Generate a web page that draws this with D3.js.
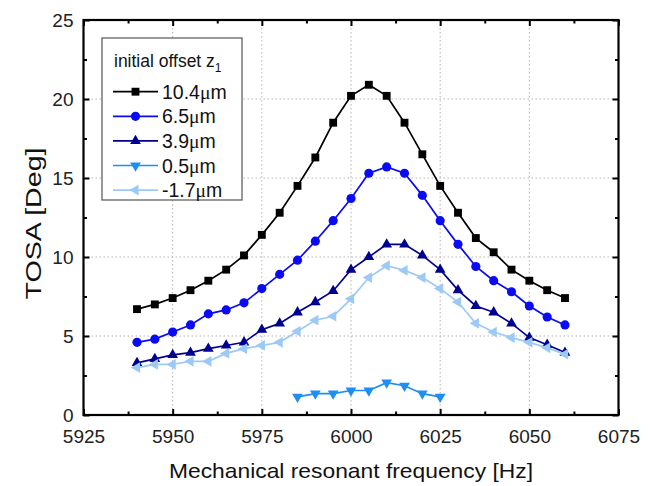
<!DOCTYPE html>
<html>
<head>
<meta charset="utf-8">
<script src="https://cdn.jsdelivr.net/npm/d3@7"></script>
<style>
  html, body { margin: 0; padding: 0; background: #fff; }
  svg { display: block; }
  text { font-family: "Liberation Sans", Arial, sans-serif; }
</style>
</head>
<body>
<svg id="chart" width="657" height="486"></svg>
<script>
// ---------- data ----------
const freqFull = [5940, 5945, 5950, 5955, 5960, 5965, 5970, 5975, 5980, 5985, 5990, 5995, 6000,
                  6005, 6010, 6015, 6020, 6025, 6030, 6035, 6040, 6045, 6050, 6055, 6060];
const freqShort = [5985, 5990, 5995, 6000, 6005, 6010, 6015, 6020, 6025];

const z10_4 = [6.7, 7.0, 7.4, 7.9, 8.5, 9.2, 10.1, 11.4, 12.8, 14.5, 16.3, 18.5, 20.2,
               20.9, 20.2, 18.5, 16.5, 14.5, 12.8, 11.2, 10.3, 9.2, 8.5, 7.9, 7.4];
const z6_5  = [4.6, 4.8, 5.25, 5.7, 6.4, 6.65, 7.1, 8.0, 8.9, 9.8, 11.0, 12.3, 13.7,
               15.3, 15.7, 15.3, 13.9, 12.3, 10.8, 9.4, 8.5, 7.8, 6.9, 6.2, 5.7];
const z3_9  = [3.3, 3.55, 3.8, 3.95, 4.2, 4.4, 4.6, 5.4, 5.8, 6.5, 7.15, 7.85, 9.2,
               10.0, 10.8, 10.8, 10.1, 9.2, 7.9, 6.9, 6.5, 5.8, 4.9, 4.45, 3.95];
const z0_5  = [1.15, 1.35, 1.35, 1.55, 1.55, 2.05, 1.85, 1.35, 1.15];
const zm1_7 = [3.0, 3.2, 3.2, 3.4, 3.4, 3.9, 4.2, 4.4, 4.6, 5.3, 6.0, 6.25, 7.35,
               8.7, 9.45, 9.15, 8.7, 8.0, 7.15, 5.8, 5.25, 4.9, 4.6, 4.25, 3.85];

const seriesLabels = ["10.4", "6.5", "3.9", "0.5", "-1.7"];
const legendTitle = "initial offset z";
const legendTitleSub = "1";
const xTicks = [5925, 5950, 5975, 6000, 6025, 6050, 6075];
const yTicks = [0, 5, 10, 15, 20, 25];
const xTitle = "Mechanical resonant frequency [Hz]";
const yTitle = "TOSA [Deg]";

// ---------- layout ----------
const svg = d3.select("#chart");
const L = 83.5, R = 618.5, T = 20, B = 415;

const x = d3.scaleLinear().domain([5925, 6075]).range([L, R]);
const y = d3.scaleLinear().domain([0, 25]).range([B, T]);

const series = [
  { name: seriesLabels[0], xs: freqFull,  ys: z10_4, color: "#000000", sym: d3.symbolSquare,   size: 62, rot: 0 },
  { name: seriesLabels[1], xs: freqFull,  ys: z6_5,  color: "#0a0af5", sym: d3.symbolCircle,   size: 66, rot: 0 },
  { name: seriesLabels[2], xs: freqFull,  ys: z3_9,  color: "#000090", sym: d3.symbolTriangle, size: 50, rot: 0 },
  { name: seriesLabels[3], xs: freqShort, ys: z0_5,  color: "#1e8ef5", sym: d3.symbolTriangle, size: 50, rot: 180 },
  { name: seriesLabels[4], xs: freqFull,  ys: zm1_7, color: "#9cc9f5", sym: d3.symbolTriangle, size: 50, rot: -90 }
];

// ---------- grid ----------
const grid = svg.append("g");
xTicks.filter(v => v > 5925 && v < 6075).forEach(v => {
  grid.append("line").attr("x1", x(v)).attr("x2", x(v)).attr("y1", T).attr("y2", B)
    .attr("stroke", "#b4b4b4").attr("stroke-width", 1).attr("stroke-dasharray", "1.5,2.5");
});
yTicks.filter(v => v > 0 && v < 25).forEach(v => {
  grid.append("line").attr("x1", L).attr("x2", R).attr("y1", y(v)).attr("y2", y(v))
    .attr("stroke", "#b4b4b4").attr("stroke-width", 1).attr("stroke-dasharray", "1.5,2.5");
});

// ---------- axes (ticks inward on all four sides) ----------
const xMinor = d3.range(5937.5, 6075, 25);
const yMinor = d3.range(2.5, 25, 5);

function ticksG(axisFn, scale, major, minor, transform, fmt) {
  const g = svg.append("g").attr("transform", transform);
  g.call(axisFn(scale).tickValues(major).tickSize(-6).tickSizeOuter(0).tickPadding(fmt ? 10 : 0)
        .tickFormat(fmt ? d3.format("d") : ""));
  g.select(".domain").remove();
  g.selectAll(".tick line").attr("stroke", "#000").attr("stroke-width", 2);
  g.selectAll(".tick text").attr("font-size", 19).attr("fill", "#222")
    .style("font-family", "'Liberation Sans', Arial, sans-serif");
  const gm = svg.append("g").attr("transform", transform);
  gm.call(axisFn(scale).tickValues(minor).tickSize(-3.5).tickSizeOuter(0).tickFormat(""));
  gm.select(".domain").remove();
  gm.selectAll(".tick line").attr("stroke", "#000").attr("stroke-width", 2);
  return g;
}
const gx = ticksG(d3.axisBottom, x, xTicks, xMinor, `translate(0,${B})`, true);
gx.selectAll(".tick text").attr("dy", "0.95em");
ticksG(d3.axisTop, x, xTicks, xMinor, `translate(0,${T})`, false);
const gy = ticksG(d3.axisLeft, y, yTicks, yMinor, `translate(${L},0)`, true);
ticksG(d3.axisRight, y, yTicks, yMinor, `translate(${R},0)`, false);

// frame
svg.append("rect").attr("x", L).attr("y", T).attr("width", R - L).attr("height", B - T)
  .attr("fill", "none").attr("stroke", "#000").attr("stroke-width", 2.2);

// ---------- series ----------
const line = d3.line().x(d => x(d[0])).y(d => y(d[1]));
series.forEach(s => {
  const pts = s.xs.map((f, i) => [f, s.ys[i]]);
  svg.append("path").datum(pts).attr("d", line)
    .attr("fill", "none").attr("stroke", s.color).attr("stroke-width", 1.7);
  const sym = d3.symbol().type(s.sym).size(s.size);
  svg.append("g").selectAll("path").data(pts).join("path")
    .attr("d", sym)
    .attr("transform", d => `translate(${x(d[0])},${y(d[1])}) rotate(${s.rot})`)
    .attr("fill", s.color);
});

// ---------- legend ----------
const lg = svg.append("g");
lg.append("rect").attr("x", 102).attr("y", 38).attr("width", 140).attr("height", 162)
  .attr("fill", "#fff").attr("stroke", "#555").attr("stroke-width", 1.2);
const lt = lg.append("text").attr("x", 114).attr("y", 67).attr("font-size", 17.5).attr("fill", "#111");
lt.append("tspan").text(legendTitle);
lt.append("tspan").attr("font-size", 12).attr("dy", 5).text(legendTitleSub);

series.forEach((s, i) => {
  const cy = 91.7 + i * 24.6;
  lg.append("line").attr("x1", 113).attr("x2", 158).attr("y1", cy).attr("y2", cy)
    .attr("stroke", s.color).attr("stroke-width", 1.7);
  lg.append("path").attr("d", d3.symbol().type(s.sym).size(s.size)())
    .attr("transform", `translate(135.5,${cy}) rotate(${s.rot})`).attr("fill", s.color);
  const t = lg.append("text").attr("x", 162).attr("y", cy + 7).attr("font-size", 19.5).attr("fill", "#111");
  t.append("tspan").text(s.name);
  t.append("tspan").style("font-family", "'Liberation Serif', 'Times New Roman', serif").text("\u03bc");
  t.append("tspan").text("m");
});

// ---------- titles ----------
svg.append("text").attr("x", (L + R) / 2).attr("y", 478).attr("text-anchor", "middle")
  .attr("font-size", 21).attr("fill", "#111")
  .attr("textLength", 364).attr("lengthAdjust", "spacingAndGlyphs").text(xTitle);
svg.append("text").attr("transform", `translate(41,${(T + B) / 2 + 6}) rotate(-90)`)
  .attr("text-anchor", "middle").attr("font-size", 22).attr("fill", "#111")
  .attr("textLength", 152).attr("lengthAdjust", "spacingAndGlyphs").text(yTitle);
</script>
</body>
</html>
